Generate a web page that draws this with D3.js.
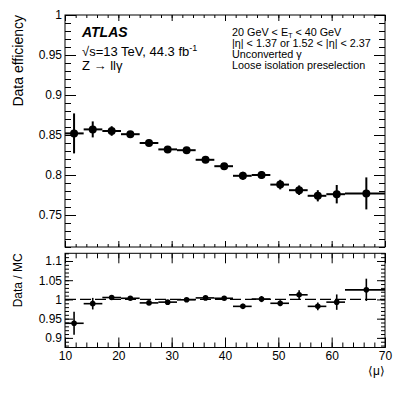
<!DOCTYPE html>
<html>
<head>
<meta charset="utf-8">
<script src="https://cdn.jsdelivr.net/npm/d3@7"></script>
<style>
  html, body { margin: 0; padding: 0; background: #fff; }
  svg { display: block; font-family: "Liberation Sans", Arial, Helvetica, sans-serif; }
  .axis path { display: none; }
  .axis line { stroke: #000; stroke-width: 1; }
  .axis text { fill: #000; font-size: 12px; }
</style>
</head>
<body>
<svg id="chart" width="407" height="395"></svg>
<script>
// Data
const BIN_LO = [10, 13.5, 17, 20.5, 24, 27.5, 31, 34.5, 38, 41.5, 45, 48.5, 52, 55.5, 59, 62.5];
const BIN_HI = [13.5, 17, 20.5, 24, 27.5, 31, 34.5, 38, 41.5, 45, 48.5, 52, 55.5, 59, 62.5, 70];
const MU = [11.7, 15.2, 18.75, 22.25, 25.75, 29.25, 32.8, 36.35, 39.85, 43.35, 46.85, 50.35, 53.9, 57.4, 60.95, 66.5];
const EFF = [0.852, 0.857, 0.855, 0.851, 0.840, 0.832, 0.831, 0.819, 0.811, 0.799, 0.800, 0.788, 0.781, 0.774, 0.776, 0.777];
const EFF_ERR = [0.025, 0.010, 0.006, 0.004, 0.003, 0.003, 0.003, 0.004, 0.004, 0.005, 0.005, 0.006, 0.006, 0.007, 0.0115, 0.02];
const RATIO = [0.938, 0.989, 1.005, 1.003, 0.991, 0.993, 0.999, 1.004, 1.003, 0.982, 1.001, 0.990, 1.012, 0.982, 0.993, 1.025];
const RATIO_ERR = [0.03, 0.015, 0.006, 0.004, 0.003, 0.003, 0.003, 0.004, 0.004, 0.007, 0.008, 0.008, 0.012, 0.01, 0.02, 0.029];

const X_MAJOR = [10, 20, 30, 40, 50, 60, 70];
const TOP_Y_MAJOR = [0.75, 0.8, 0.85, 0.9, 0.95, 1];
const BOT_Y_MAJOR = [0.9, 0.95, 1, 1.05, 1.1];

const points = MU.map((m, i) => ({
    mu: m, lo: BIN_LO[i], hi: BIN_HI[i],
    eff: EFF[i], effErr: EFF_ERR[i],
    ratio: RATIO[i], ratioErr: RATIO_ERR[i]
}));

// Layout
const svg = d3.select('#chart');
const left = 65, right = 385;
const top1 = 15, bot1 = 247;
const top2 = 253.3, bot2 = 347.5;

const x = d3.scaleLinear().domain([10, 70]).range([left, right]);
const y1 = d3.scaleLinear().domain([0.71, 1.0]).range([bot1, top1]);
const y2 = d3.scaleLinear().domain([0.875, 1.12]).range([bot2, top2]);

const xMinor = d3.range(10, 70.001, 2);
const fmt = d => String(+d.toFixed(2));

// draws frame + inner ticks for one pad
function drawPad(y, yTop, yBot, yMajor, yMinorStep, tk, showXLabels) {
    const g = svg.append('g');
    const yMinor = d3.range(y.domain()[0], y.domain()[1] + 1e-9, 0.001)
        .map(v => Math.round(v * 1000) / 1000)
        .filter(v => Math.abs(v / yMinorStep - Math.round(v / yMinorStep)) < 1e-6);

    // x ticks bottom & top
    g.append('g').attr('class', 'axis').attr('transform', `translate(0,${yBot})`)
        .call(d3.axisBottom(x).tickValues(xMinor).tickSize(-tk.xMin).tickFormat(''));
    g.append('g').attr('class', 'axis').attr('transform', `translate(0,${yBot})`)
        .call(d3.axisBottom(x).tickValues(X_MAJOR).tickSize(-tk.xMaj).tickPadding(4)
            .tickFormat(showXLabels ? d => d : ''));
    g.append('g').attr('class', 'axis').attr('transform', `translate(0,${yTop})`)
        .call(d3.axisTop(x).tickValues(xMinor).tickSize(-tk.xMin).tickFormat(''));
    g.append('g').attr('class', 'axis').attr('transform', `translate(0,${yTop})`)
        .call(d3.axisTop(x).tickValues(X_MAJOR).tickSize(-tk.xMaj).tickFormat(''));

    // y ticks left & right
    g.append('g').attr('class', 'axis').attr('transform', `translate(${left},0)`)
        .call(d3.axisLeft(y).tickValues(yMinor).tickSize(-tk.yMin).tickFormat(''));
    g.append('g').attr('class', 'axis').attr('transform', `translate(${left},0)`)
        .call(d3.axisLeft(y).tickValues(yMajor).tickSize(-tk.yMaj).tickPadding(3).tickFormat(fmt));
    g.append('g').attr('class', 'axis').attr('transform', `translate(${right},0)`)
        .call(d3.axisRight(y).tickValues(yMinor).tickSize(-tk.yMin).tickFormat(''));
    g.append('g').attr('class', 'axis').attr('transform', `translate(${right},0)`)
        .call(d3.axisRight(y).tickValues(yMajor).tickSize(-tk.yMaj).tickFormat(''));

    g.append('rect')
        .attr('x', left).attr('y', yTop)
        .attr('width', right - left).attr('height', yBot - yTop)
        .attr('fill', 'none').attr('stroke', '#000').attr('stroke-width', 1);
    return g;
}

drawPad(y1, top1, bot1, TOP_Y_MAJOR, 0.01, {xMaj: 6, xMin: 3, yMaj: 11, yMin: 6}, false);
drawPad(y2, top2, bot2, BOT_Y_MAJOR, 0.01, {xMaj: 10, xMin: 5, yMaj: 8, yMin: 4}, true);

// Reference line at 1
svg.append('line')
    .attr('x1', x(10)).attr('x2', x(70))
    .attr('y1', y2(1)).attr('y2', y2(1))
    .attr('stroke', '#000').attr('stroke-width', 1.2)
    .attr('stroke-dasharray', '11,4');

// Data points with error bars
function drawPoints(y, key, errKey, r, sw) {
    const g = svg.append('g');
    g.selectAll('line.h').data(points).join('line')
        .attr('x1', d => x(d.lo)).attr('x2', d => x(d.hi))
        .attr('y1', d => y(d[key])).attr('y2', d => y(d[key]))
        .attr('stroke', '#000').attr('stroke-width', sw);
    g.selectAll('line.v').data(points).join('line')
        .attr('x1', d => x(d.mu)).attr('x2', d => x(d.mu))
        .attr('y1', d => y(d[key] - d[errKey])).attr('y2', d => y(d[key] + d[errKey]))
        .attr('stroke', '#000').attr('stroke-width', sw);
    g.selectAll('circle').data(points).join('circle')
        .attr('cx', d => x(d.mu)).attr('cy', d => y(d[key]))
        .attr('r', r).attr('fill', '#000');
}
drawPoints(y1, 'eff', 'effErr', 4, 2);
drawPoints(y2, 'ratio', 'ratioErr', 2.8, 1.6);

// Axis titles
svg.append('text')
    .attr('transform', `translate(23,${top1}) rotate(-90)`)
    .attr('text-anchor', 'end')
    .style('font-size', '14px')
    .text('Data efficiency');
svg.append('text')
    .attr('transform', `translate(22,${top2}) rotate(-90)`)
    .attr('text-anchor', 'end')
    .style('font-size', '12px')
    .text('Data / MC');
svg.append('text')
    .attr('x', right).attr('y', 375)
    .attr('text-anchor', 'end')
    .style('font-size', '12px')
    .text('\u27E8\u03BC\u27E9');

// ATLAS label block
svg.append('text')
    .attr('x', 82).attr('y', 36.5)
    .style('font-size', '14px').style('font-weight', 'bold').style('font-style', 'italic')
    .text('ATLAS');
const lumi = svg.append('text').attr('x', 82).attr('y', 56).style('font-size', '13px');
lumi.append('tspan').text('\u221As=13 TeV, 44.3 fb');
lumi.append('tspan').attr('dy', -5).style('font-size', '9px').text('-1');
svg.append('text')
    .attr('x', 82).attr('y', 69.5).style('font-size', '13px')
    .text('Z \u2192 ll\u03B3');

// Selection text block
const sel = svg.append('g').style('font-size', '10.8px');
const l1 = sel.append('text').attr('x', 232).attr('y', 35.5);
l1.append('tspan').text('20 GeV < E');
l1.append('tspan').attr('dy', 2).style('font-size', '7px').text('T');
l1.append('tspan').attr('dy', -2).text(' < 40 GeV');
sel.append('text').attr('x', 232).attr('y', 47).text('|\u03B7| < 1.37 or 1.52 < |\u03B7| < 2.37');
sel.append('text').attr('x', 232).attr('y', 57.8).text('Unconverted \u03B3');
sel.append('text').attr('x', 232).attr('y', 68.5).text('Loose isolation preselection');
</script>
</body>
</html>
